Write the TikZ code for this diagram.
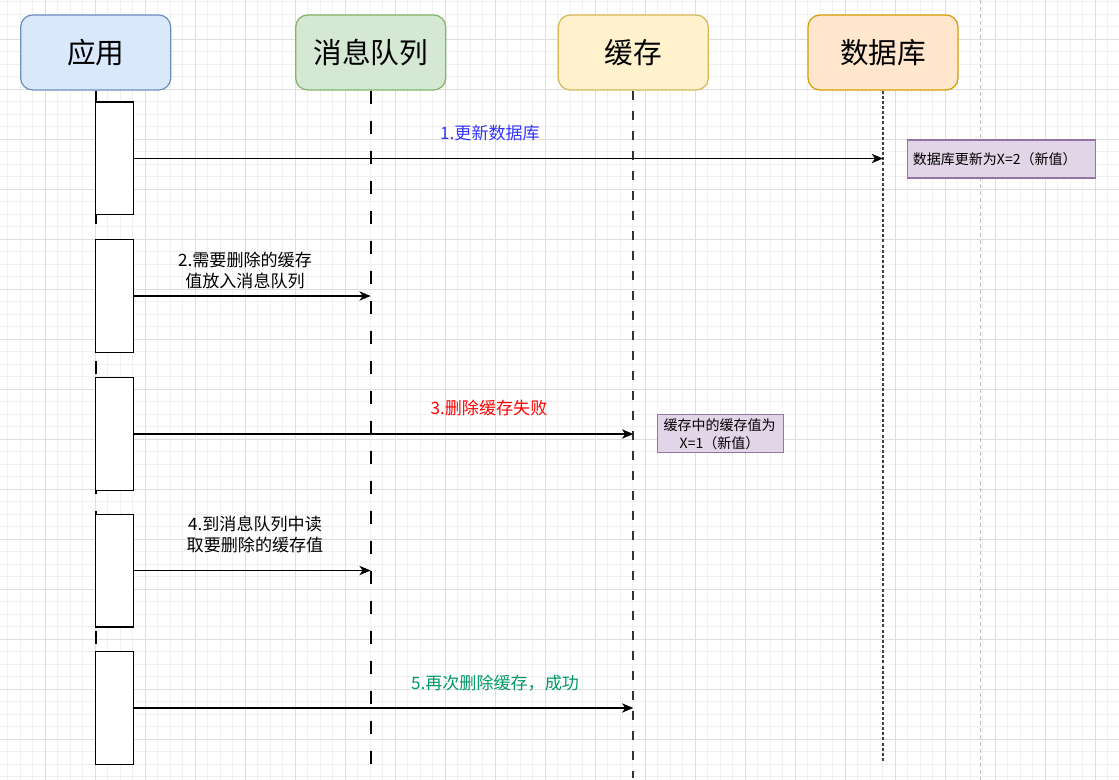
\documentclass[tikz,border=0pt]{standalone}
\usepackage{fontspec}
\setmainfont{Noto Sans CJK SC}
\usetikzlibrary{arrows.meta}
\definecolor{gridminor}{HTML}{F0F0F0}
\definecolor{gridmajor}{HTML}{DEDEDE}
\definecolor{bluefill}{HTML}{DAE8FC}\definecolor{bluedraw}{HTML}{6C8EBF}
\definecolor{greenfill}{HTML}{D5E8D4}\definecolor{greendraw}{HTML}{82B366}
\definecolor{yellowfill}{HTML}{FFF2CC}\definecolor{yellowdraw}{HTML}{D6B656}
\definecolor{orangefill}{HTML}{FFE6CC}\definecolor{orangedraw}{HTML}{D79B00}
\definecolor{purplefill}{HTML}{E1D5E7}\definecolor{purpledraw}{HTML}{9673A6}
\definecolor{lblblue}{HTML}{3333FF}
\definecolor{lblred}{HTML}{FF0000}
\definecolor{lblgreen}{HTML}{009966}
\definecolor{pageline}{HTML}{BDBDBD}
\begin{document}
\begin{tikzpicture}[x=0.75pt,y=-0.75pt,
  header/.style={draw=#1draw, fill=#1fill, line width=0.9pt, rounded corners=9pt,
    minimum width=112.5pt, minimum height=56.25pt, inner sep=0pt,
    font=\fontsize{21.5pt}{24pt}\selectfont},
  actbox/.style={draw=black, fill=white, line width=1.1pt,
    minimum width=28.5pt, minimum height=84.4pt, inner sep=0pt},
  msg/.style={draw=black, line width=1pt, -{Stealth[length=8.5pt,width=7pt,inset=2.5pt]}},
  lbl/.style={inner sep=0pt, align=center, font=\fontsize{12.8pt}{15.8pt}\selectfont},
  note/.style={draw=purpledraw, fill=purplefill, line width=0.8pt, inner sep=0pt,
    font=\fontsize{10.5pt}{13.3pt}\selectfont},
  lifeA/.style={draw=black, line width=1.25pt, dash pattern=on 9.75pt off 12.75pt},
  lifeC/.style={draw=black!80, line width=1.3pt, dash pattern=on 7.1pt off 7.9pt},
  lifeD/.style={draw=black!75, line width=1.3pt, dash pattern=on 2.25pt off 1.6pt},
  ]
\useasboundingbox (0,0) rectangle (1119,780);
\fill[white] (0,0) rectangle (1119,780);
% grid
\foreach \i in {0,...,89} \draw[gridminor, line width=0.75pt] ({7.5+12.5*\i},0) -- ({7.5+12.5*\i},780);
\foreach \j in {0,...,62} \draw[gridminor, line width=0.75pt] (0,{1.8+12.5*\j}) -- (1119,{1.8+12.5*\j});
\foreach \i in {0,...,21} \draw[gridmajor, line width=0.75pt] ({45+50*\i},0) -- ({45+50*\i},780);
\foreach \j in {0,...,15} \draw[gridmajor, line width=0.75pt] (0,{39.3+50*\j}) -- (1119,{39.3+50*\j});
% page boundary
\coordinate (pgtop) at (980,0);
\coordinate (pgbot) at (980,780);
\draw[pageline, line width=0.75pt, dash pattern=on 3pt off 2.3pt] (pgtop) -- (pgbot);

% headers
\node[header=blue] (app) at (95.7,52.5) {应用};
\node[header=green] (mq) at (370.7,52.5) {消息队列};
\node[header=yellow] (cache) at (633.3,52.5) {缓存};
\node[header=orange] (db) at (883,52.5) {数据库};

% lifeline ends
\coordinate (append) at (95.7,768);
\coordinate (mqend) at (370.7,768);
\coordinate (cacheend) at (633.3,778);
\coordinate (dbend) at (883,762);
\draw[lifeA] (app.south) -- (append);
\draw[lifeA] (mq.south) -- (mqend);
\draw[lifeC] (cache.south) -- (cacheend);
\draw[lifeD] (db.south) -- (dbend);

% activation boxes
\node[actbox] (act1) at (114.5,158.5) {};
\node[actbox] (act2) at (114.5,296) {};
\node[actbox] (act3) at (114.5,434) {};
\node[actbox] (act4) at (114.5,570.5) {};
\node[actbox] (act5) at (114.5,708) {};

% messages
\draw[msg] (act1.east) -- (act1.east -| db.south);
\draw[msg] (act2.east) -- (act2.east -| mq.south);
\draw[msg] (act3.east) -- (act3.east -| cache.south);
\draw[msg] (act4.east) -- (act4.east -| mq.south);
\draw[msg] (act5.east) -- (act5.east -| cache.south);

% labels
\node[lbl, text=lblblue] (l1) at (490,133) {1.更新数据库};
\node[lbl] (l2) at (245,270.5) {2.需要删除的缓存\\值放入消息队列};
\node[lbl, text=lblred] (l3) at (489,408) {3.删除缓存失败};
\node[lbl] (l4) at (255,534) {4.到消息队列中读\\取要删除的缓存值};
\node[lbl, text=lblgreen] (l5) at (495,683) {5.再次删除缓存，成功};

% notes
\node[note, minimum width=141pt, minimum height=28.5pt] (n1) at (1001.8,159) {};
\node[anchor=west, inner sep=0pt, font=\fontsize{10.5pt}{13.3pt}\selectfont] (n1t) at (912.7,159) {数据库更新为X=2（新值）};
\node[note, minimum width=94pt, minimum height=28.5pt] (n2) at (720.5,433.3) {};
\node[inner sep=0pt, align=center, font=\fontsize{10.5pt}{13.3pt}\selectfont] (n2t) at (719.5,434) {缓存中的缓存值为\\X=1（新值）};
\end{tikzpicture}
\end{document}
